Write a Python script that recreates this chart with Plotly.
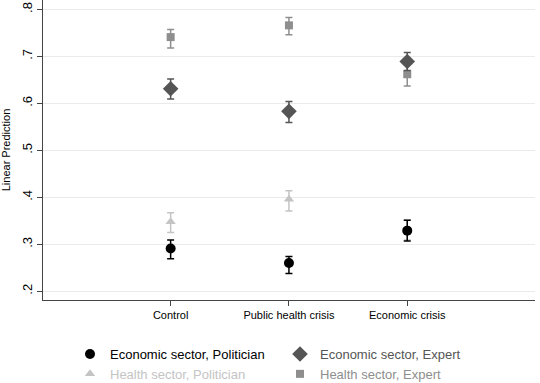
import plotly.graph_objects as go

categories = ["Control", "Public health crisis", "Economic crisis"]
x_pos = [1, 2, 3]

series_names = ["Economic sector, Politician", "Economic sector, Expert",
                "Health sector, Politician", "Health sector, Expert"]

econ_pol = [0.291, 0.260, 0.329]
econ_pol_lo = [0.269, 0.238, 0.307]
econ_pol_hi = [0.309, 0.274, 0.351]

econ_exp = [0.631, 0.583, 0.689]
econ_exp_lo = [0.609, 0.559, 0.670]
econ_exp_hi = [0.652, 0.604, 0.708]

health_pol = [0.348, 0.396, 0.331]
health_pol_lo = [0.325, 0.371, 0.309]
health_pol_hi = [0.367, 0.414, 0.352]

health_exp = [0.741, 0.766, 0.662]
health_exp_lo = [0.718, 0.746, 0.637]
health_exp_hi = [0.757, 0.783, 0.684]

y_ticks = [0.2, 0.3, 0.4, 0.5, 0.6, 0.7, 0.8]
y_ticktext = [".2", ".3", ".4", ".5", ".6", ".7", ".8"]

styles = [
    dict(color="#000000", symbol="circle", size=10, legend="legend"),
    dict(color="#555555", symbol="diamond", size=12, legend="legend2"),
    dict(color="#c4c4c4", symbol="triangle-up", size=9, legend="legend"),
    dict(color="#8e8e8e", symbol="square", size=8, legend="legend2"),
]
data = [
    (econ_pol, econ_pol_lo, econ_pol_hi),
    (econ_exp, econ_exp_lo, econ_exp_hi),
    (health_pol, health_pol_lo, health_pol_hi),
    (health_exp, health_exp_lo, health_exp_hi),
]

fig = go.Figure()
draw_order = [2, 3, 1, 0]
for i in draw_order:
    y, lo, hi = data[i]
    st = styles[i]
    fig.add_trace(go.Scatter(
        x=x_pos, y=y, mode="markers",
        name=f'<span style="color:{st["color"]}">{series_names[i]}</span>',
        legend=st["legend"],
        legendrank=i,
        marker=dict(color=st["color"], symbol=st["symbol"], size=st["size"]),
        error_y=dict(type="data", symmetric=False,
                     array=[h - v for h, v in zip(hi, y)],
                     arrayminus=[v - l for v, l in zip(y, lo)],
                     color=st["color"], thickness=1.5, width=3.5),
    ))

PW, PH, ML, MB = 492, 300, 43, 83

fig.update_layout(
    width=540, height=383,
    margin=dict(l=ML, r=5, t=0, b=MB, autoexpand=False),
    paper_bgcolor="white", plot_bgcolor="white",
    font=dict(family="Liberation Sans, Arial, sans-serif", color="#000000"),
    xaxis=dict(range=[-0.079, 4.08], tickvals=x_pos, ticktext=categories,
               showgrid=False, zeroline=False, showline=True, automargin=False,
               linecolor="#444444", linewidth=1,
               ticks="outside", ticklen=5, tickcolor="#444444",
               tickfont=dict(size=11, color="#000000")),
    yaxis=dict(range=[0.1814, 0.820], tickvals=y_ticks, ticktext=y_ticktext,
               tickangle=-90, showgrid=True, gridcolor="#eaeaea", gridwidth=1,
               zeroline=False, showline=True, linecolor="#444444", linewidth=1,
               automargin=False,
               ticks="outside", ticklen=5, tickcolor="#444444",
               tickfont=dict(size=13, color="#000000"),
               title=dict(text="Linear Prediction", font=dict(size=11), standoff=8)),
    legend=dict(xref="paper", yref="paper", x=(70 - ML) / PW, y=(PH - 339) / PH,
                xanchor="left", yanchor="top", orientation="v",
                font=dict(size=13), bgcolor="rgba(0,0,0,0)", tracegroupgap=0,
                itemwidth=30),
    legend2=dict(xref="paper", yref="paper", x=(280 - ML) / PW, y=(PH - 339) / PH,
                 xanchor="left", yanchor="top", orientation="v",
                 font=dict(size=13), bgcolor="rgba(0,0,0,0)", tracegroupgap=0,
                 itemwidth=30),
)

fig.write_html(
    "out.html",
    config={"displayModeBar": False},
    post_script="document.body.style.margin='0';document.body.style.overflow='hidden';",
)
